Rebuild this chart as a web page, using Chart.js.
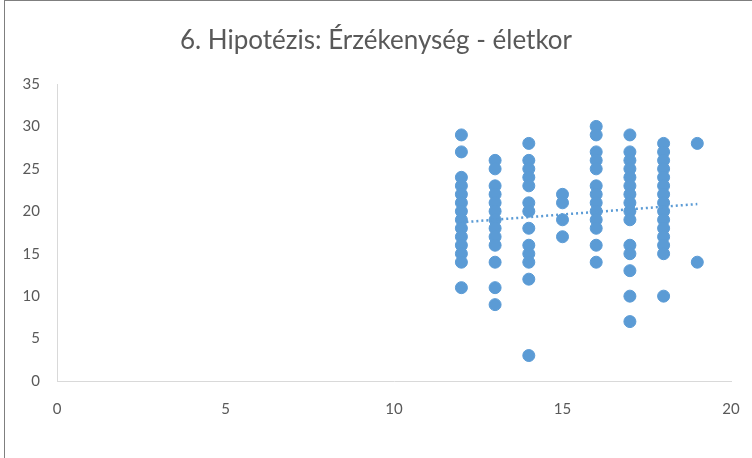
<!DOCTYPE html>
<html>
<head>
<meta charset="utf-8">
<script src="https://cdn.jsdelivr.net/npm/chart.js@4"></script>
<style>
  html, body { margin: 0; padding: 0; background: #fff; }
  #frame {
    position: absolute; left: 0; top: 0; width: 752px; height: 458px;
  }
  #border {
    position: absolute; left: 4px; top: 0px; width: 760px; height: 470px;
    border: 1px solid #7f7f7f; box-sizing: border-box;
  }
  canvas { position: absolute; left: 0; top: 0; }
</style>
</head>
<body>
<div id="frame">
  <div id="border"></div>
  <canvas id="chart" width="752" height="458"></canvas>
</div>
<script>
// age (x) groups and sensitivity scores (y)
const ages = [12, 13, 14, 15, 16, 17, 18, 19];
const scoresByAge = [
  [29, 27, 24, 23, 22, 21, 20, 19, 18, 17, 16, 15, 14, 11],
  [26, 25, 23, 22, 21, 20, 19, 18, 17, 16, 14, 11, 9],
  [28, 26, 25, 24, 23, 21, 20, 18, 16, 15, 14, 12, 3],
  [22, 21, 19, 17],
  [30, 29, 27, 26, 25, 23, 22, 21, 20, 19, 18, 16, 14],
  [29, 27, 26, 25, 24, 23, 22, 21, 20, 19, 16, 15, 13, 10, 7],
  [28, 27, 26, 25, 24, 23, 22, 21, 20, 19, 18, 17, 16, 15, 10],
  [28, 14]
];

// linear trendline ends
const trendX = [12, 19];
const trendY = [18.7, 20.85];

const xTicks = [0, 5, 10, 15, 20];
const yTicks = [0, 5, 10, 15, 20, 25, 30, 35];

const points = [];
ages.forEach((age, i) => {
  scoresByAge[i].forEach(v => points.push({ x: age, y: v }));
});

const trend = trendX.map((x, i) => ({ x: x, y: trendY[i] }));

const blue = "#5B9BD5";
const textColor = "#595959";
const font = "Lato, 'Open Sans', sans-serif";

new Chart(document.getElementById("chart").getContext("2d"), {
  type: "scatter",
  data: {
    datasets: [
      {
        label: "Trendline",
        type: "line",
        data: trend,
        borderColor: blue,
        borderWidth: 2.5,
        borderDash: [2, 3],
        pointRadius: 0,
        fill: false,
        order: 0
      },
      {
        label: "Érzékenység",
        data: points,
        backgroundColor: blue,
        borderColor: blue,
        pointRadius: 6,
        pointHoverRadius: 6,
        order: 1
      }
    ]
  },
  options: {
    responsive: false,
    animation: false,
    layout: { padding: 0 },
    plugins: {
      legend: { display: false },
      tooltip: { enabled: false },
      title: {
        display: true,
        text: "6. Hipotézis: Érzékenység - életkor",
        color: textColor,
        font: { family: font, size: 26, weight: "normal" },
        padding: { top: 25, bottom: 27.8 }
      }
    },
    scales: {
      x: {
        type: "linear",
        min: 0,
        max: 20,
        afterBuildTicks: s => { s.ticks = xTicks.map(v => ({ value: v })); },
        afterFit: s => { s.height = 77; s.paddingLeft = 0; s.paddingRight = 21; },
        grid: { display: false, drawTicks: false },
        border: { display: true, color: "#D9D9D9", width: 1 },
        ticks: { color: textColor, font: { family: font, size: 15 }, padding: 19 }
      },
      y: {
        type: "linear",
        min: 0,
        max: 35,
        afterBuildTicks: s => { s.ticks = yTicks.map(v => ({ value: v })); },
        afterFit: s => { s.width = 57; s.paddingTop = 0; s.paddingBottom = 0; },
        grid: { display: false, drawTicks: false },
        border: { display: true, color: "#D9D9D9", width: 1 },
        ticks: { color: textColor, font: { family: font, size: 15 }, padding: 17 }
      }
    }
  }
});
</script>
</body>
</html>
